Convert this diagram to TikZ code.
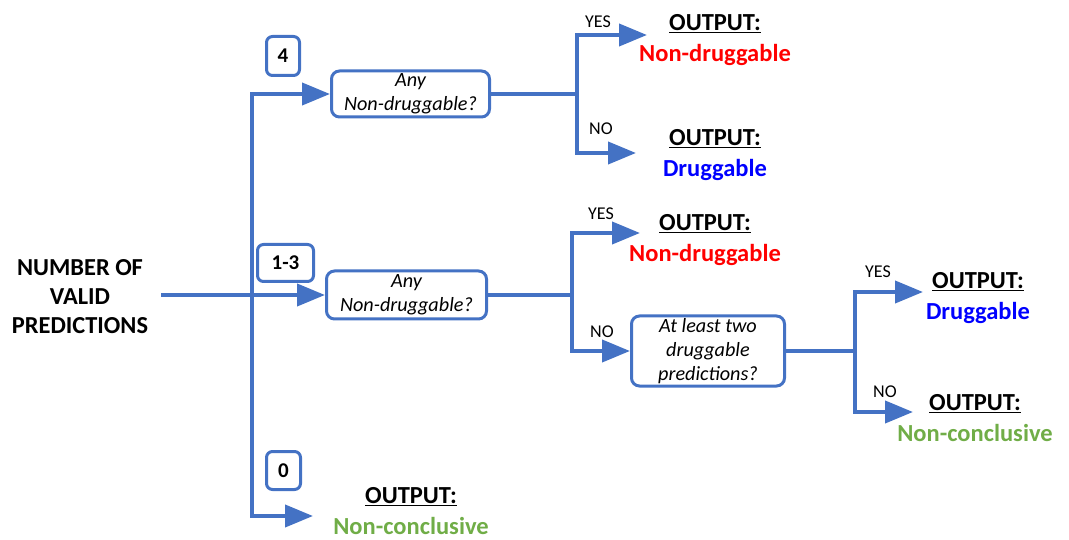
\documentclass[tikz,border=0pt]{standalone}
\usepackage{fontspec}
\setmainfont{Carlito}
\usetikzlibrary{arrows.meta}
\definecolor{lblue}{HTML}{4472C4}
\definecolor{nred}{HTML}{FF0000}
\definecolor{nblue}{HTML}{0000FF}
\definecolor{ngreen}{HTML}{70AD47}
\begin{document}
\begin{tikzpicture}[x=1pt,y=-1pt,
  conn/.style={draw=lblue, line width=4pt},
  arr/.style={conn,-{Triangle[length=28pt,width=22pt]}},
  qbox/.style={draw=lblue,line width=3pt,rounded corners=8pt,fill=white,align=center,inner sep=0pt,font=\fontsize{20.2}{24}\selectfont\itshape},
  nbox/.style={draw=lblue,line width=3pt,rounded corners=6pt,fill=white,inner sep=0pt,font=\fontsize{21}{22}\selectfont\bfseries},
  outp/.style={align=center,font=\fontsize{24.5}{30.5}\selectfont\bfseries},
  lab/.style={font=\fontsize{18}{20}\selectfont},
  title/.style={align=center,font=\fontsize{24.4}{29}\selectfont\bfseries}]
\useasboundingbox (0,0) rectangle (1069,540);

% source text
\node[title] (src) at (80,297) {NUMBER OF\\VALID\\PREDICTIONS};
\coordinate (s) at (161,295);

% number boxes
\node[nbox,minimum width=33pt,minimum height=39pt] (n4) at (283,56) {4};
\node[nbox,minimum width=56pt,minimum height=37pt] (n13) at (285.5,263) {1-3};
\node[nbox,minimum width=34pt,minimum height=38pt] (n0) at (283.5,470.5) {0};

% question boxes
\node[qbox,minimum width=158pt,minimum height=46pt] (q1) at (410.5,94) {Any\\Non-druggable?};
\node[qbox,minimum width=160pt,minimum height=48pt] (q2) at (406.5,295) {Any\\Non-druggable?};
\node[qbox,minimum width=153pt,minimum height=70pt] (q3) at (708,351) {At least two\\druggable\\predictions?};

% outputs
\node[outp] (o1) at (715,40) {\underline{OUTPUT:}\\\color{nred}Non-druggable};
\node[outp] (o2) at (715,155) {\underline{OUTPUT:}\\\color{nblue}Druggable};
\node[outp] (o3) at (705,240) {\underline{OUTPUT:}\\\color{nred}Non-druggable};
\node[outp] (o4) at (978,298) {\underline{OUTPUT:}\\\color{nblue}Druggable};
\node[outp] (o5) at (975,418) {\underline{OUTPUT:}\\\color{ngreen}Non-conclusive};
\node[outp] (o0) at (411,511) {\underline{OUTPUT:}\\\color{ngreen}Non-conclusive};

% coordinates
\coordinate (tt) at (252,94);
\coordinate (tb) at (252,516);
\coordinate (t0) at (313,516);
\coordinate (b1) at (577,94);
\coordinate (y1) at (647,35);
\coordinate (n1) at (636,153);
\coordinate (b2) at (572,295);
\coordinate (y2) at (640,233);
\coordinate (b3) at (855,351);
\coordinate (y3) at (923,292);
\coordinate (n3) at (913,412);

% trunk
\draw[arr] (tb) -- (tt) -- (q1.west);
\draw[arr] (tt) -- (tb) -- (t0);
\draw[arr] (s) -- (q2.west);

% branch 1
\draw[conn] (q1.east) -- (b1);
\draw[arr] (b1) |- (y1);
\draw[arr] (b1) |- (n1);
\node[lab] (l1y) at (598,22) {YES};
\node[lab] (l1n) at (601,129) {NO};

% branch 2
\draw[conn] (q2.east) -- (b2);
\draw[arr] (b2) |- (y2);
\draw[arr] (b2) |- (q3.west);
\node[lab] (l2y) at (601,214) {YES};
\node[lab] (l2n) at (602,332) {NO};

% branch 3
\draw[conn] (q3.east) -- (b3);
\draw[arr] (b3) |- (y3);
\draw[arr] (b3) |- (n3);
\node[lab] (l3y) at (878,272) {YES};
\node[lab] (l3n) at (885,392) {NO};
\end{tikzpicture}
\end{document}
